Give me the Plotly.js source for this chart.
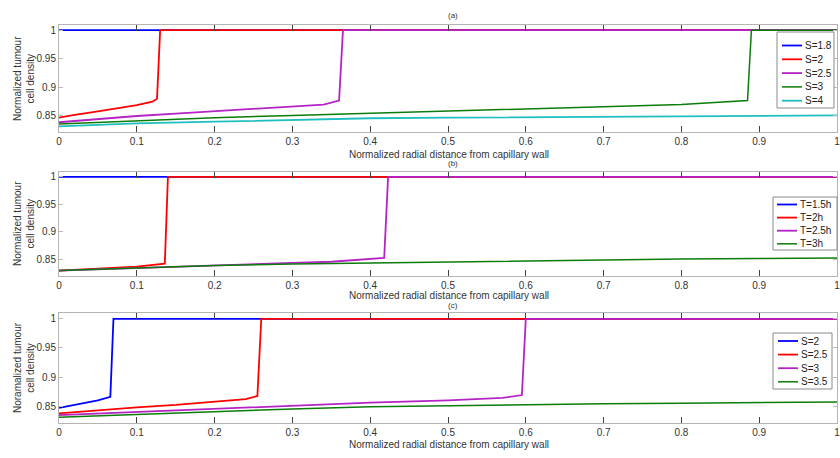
<!DOCTYPE html>
<html><head><meta charset="utf-8">
<script src="https://cdn.plot.ly/plotly-3.0.1.min.js"></script>
<style>html,body{margin:0;padding:0;background:#fff}#chart{width:840px;height:458px}</style>
</head><body><div id="chart"></div>
<script>
// ---------- Data ----------
const xTicks = [0,0.1,0.2,0.3,0.4,0.5,0.6,0.7,0.8,0.9,1];
const xTickText = ["0","0.1","0.2","0.3","0.4","0.5","0.6","0.7","0.8","0.9","1"];
const yTicks = [0.85,0.9,0.95,1];
const yTickText = ["0.85","0.9","0.95","1"];

// Panel (a)
const namesA = ["S=1.8","S=2","S=2.5","S=3","S=4"];
const aBlueX = [0,1];
const aBlueY = [1,1];
const aRedX = [0,0.02,0.05,0.08,0.1,0.12,0.126,0.13,1];
const aRedY = [0.847,0.852,0.858,0.865,0.869,0.875,0.880,1,1];
const aMagX = [0,0.05,0.1,0.15,0.2,0.25,0.3,0.34,0.36,0.365,1];
const aMagY = [0.839,0.845,0.850,0.854,0.858,0.862,0.866,0.870,0.877,1,1];
const aGreenX = [0,0.1,0.2,0.3,0.4,0.5,0.6,0.7,0.8,0.885,0.89,1];
const aGreenY = [0.836,0.842,0.847,0.851,0.855,0.859,0.862,0.866,0.870,0.877,1,1];
const aCyanX = [0,0.1,0.2,0.3,0.4,0.5,0.6,0.7,0.8,0.9,1];
const aCyanY = [0.832,0.837,0.840,0.843,0.846,0.847,0.848,0.849,0.850,0.851,0.851];

// Panel (b)
const namesB = ["T=1.5h","T=2h","T=2.5h","T=3h"];
const bBlueX = [0,1];
const bBlueY = [1,1];
const bRedX = [0,0.05,0.1,0.136,0.14,1];
const bRedY = [0.829,0.832,0.836,0.8415,1,1];
const bMagX = [0,0.1,0.2,0.3,0.35,0.4,0.418,0.423,1];
const bMagY = [0.829,0.834,0.838,0.843,0.845,0.8495,0.852,1,1];
const bGreenX = [0,0.1,0.2,0.3,0.4,0.5,0.6,0.7,0.8,0.9,1];
const bGreenY = [0.829,0.834,0.838,0.841,0.843,0.845,0.847,0.849,0.850,0.851,0.852];

// Panel (c)
const namesC = ["S=2","S=2.5","S=3","S=3.5"];
const cBlueX = [0,0.03,0.05,0.066,0.07,1];
const cBlueY = [0.847,0.855,0.860,0.866,1,1];
const cRedX = [0,0.05,0.1,0.15,0.2,0.24,0.255,0.26,1];
const cRedY = [0.8375,0.843,0.848,0.852,0.857,0.862,0.8675,1,1];
const cMagX = [0,0.1,0.2,0.3,0.4,0.5,0.57,0.595,0.6,1];
const cMagY = [0.8345,0.840,0.846,0.851,0.856,0.860,0.864,0.869,1,1];
const cGreenX = [0,0.1,0.2,0.3,0.4,0.5,0.6,0.7,0.8,0.9,1];
const cGreenY = [0.831,0.836,0.841,0.845,0.849,0.851,0.853,0.854,0.855,0.856,0.857];

// ---------- Styles ----------
const COLORS = {blue:"#0000ff", red:"#ff0000", mag:"#b424c4", green:"#0b7d0b", cyan:"#1fbfbf"};
const FONT = "Liberation Sans, Arial, sans-serif";

function tr(x,y,name,color,xa,ya,w){
  return {type:"scatter",mode:"lines",x:x,y:y,name:name,xaxis:xa,yaxis:ya,showlegend:false,
          line:{color:color,width:w||1.8},hoverinfo:"skip"};
}

const data = [
  tr(aBlueX,aBlueY,namesA[0],COLORS.blue,"x","y"),
  tr(aRedX,aRedY,namesA[1],COLORS.red,"x","y"),
  tr(aMagX,aMagY,namesA[2],COLORS.mag,"x","y"),
  tr(aGreenX,aGreenY,namesA[3],COLORS.green,"x","y",1.5),
  tr(aCyanX,aCyanY,namesA[4],COLORS.cyan,"x","y"),
  tr(bBlueX,bBlueY,namesB[0],COLORS.blue,"x2","y2"),
  tr(bRedX,bRedY,namesB[1],COLORS.red,"x2","y2"),
  tr(bMagX,bMagY,namesB[2],COLORS.mag,"x2","y2"),
  tr(bGreenX,bGreenY,namesB[3],COLORS.green,"x2","y2",1.5),
  tr(cBlueX,cBlueY,namesC[0],COLORS.blue,"x3","y3"),
  tr(cRedX,cRedY,namesC[1],COLORS.red,"x3","y3"),
  tr(cMagX,cMagY,namesC[2],COLORS.mag,"x3","y3"),
  tr(cGreenX,cGreenY,namesC[3],COLORS.green,"x3","y3",1.5)
];

const XD = [59/840, 837/840];
function xa(anchor){
  return {domain:XD, anchor:anchor, range:[0,1], tickvals:xTicks, ticktext:xTickText,
    ticks:"inside", ticklen:6, tickcolor:"#444", tickwidth:1, showline:true, linecolor:"#b4b4b4",
    linewidth:1, mirror:"ticks", showgrid:false, zeroline:false, fixedrange:true,
    ticklabeloverflow:"allow",
    tickfont:{family:FONT,size:10,color:"#333"}};
}
function ya(anchor,dom,rng){
  return {domain:dom, anchor:anchor, range:rng, tickvals:yTicks, ticktext:yTickText,
    ticks:"inside", ticklen:4, tickcolor:"#bbb", tickwidth:1, showline:true, linecolor:"#b4b4b4",
    linewidth:1, mirror:"ticks", showgrid:false, zeroline:false, fixedrange:true,
    ticklabeloverflow:"allow",
    tickfont:{family:FONT,size:10,color:"#333"}};
}
function py(p){ return 1 - p/458; }

// ---------- Legends (built from the series names / colours) ----------
const shapes = [];
const ann = [];
function legendBox(names, cols, bx0, bx1, by0, by1, firstY, step, lx0, lx1){
  shapes.push({type:"rect", xref:"paper", yref:"paper", x0:bx0/840, x1:bx1/840, y0:py(by1), y1:py(by0),
    line:{color:"#8a8a8a", width:1}, fillcolor:"#ffffff", layer:"above"});
  names.forEach((n,i)=>{
    const yy = firstY + i*step;
    shapes.push({type:"line", xref:"paper", yref:"paper", x0:lx0/840, x1:lx1/840, y0:py(yy), y1:py(yy),
      line:{color:cols[i], width:i===3?1.5:1.8}, layer:"above"});
    ann.push({text:n, xref:"paper", yref:"paper", x:(lx1+1)/840, y:py(yy), showarrow:false,
      xanchor:"left", yanchor:"middle", font:{family:FONT,size:10,color:"#222"}});
  });
}
legendBox(namesA,[COLORS.blue,COLORS.red,COLORS.mag,COLORS.green,COLORS.cyan],777,834,32,108,45.5,13.8,782,802);
legendBox(namesB,[COLORS.blue,COLORS.red,COLORS.mag,COLORS.green],773,837,197,250,204.5,13.1,777,797);
legendBox(namesC,[COLORS.blue,COLORS.red,COLORS.mag,COLORS.green],773,832,333,389,341,13.6,778,798);

function A(text,x,y,size,angle){
  ann.push({text:text, xref:"paper", yref:"paper", x:x/840, y:py(y), showarrow:false,
    xanchor:"center", yanchor:"middle", textangle:angle||0,
    font:{family:FONT,size:size,color:"#333"}});
}
const xTitle = "Normalized radial distance from capillary wall";
A("(a)",453,15,8); A("(b)",453,164,8); A("(c)",453,305,8);
A(xTitle,449,154,10); A(xTitle,449,295,10); A(xTitle,449,444,10);
A("Normalized tumour<br>cell density",24,79,10,-90);
A("Normalized tumour<br>cell density",24,224,10,-90);
A("Noramalized tumour<br>cell density",24,368,10,-90);

const layout = {
  width:840, height:458, margin:{l:0,r:0,t:0,b:0},
  paper_bgcolor:"#fff", plot_bgcolor:"#fff", showlegend:false,
  xaxis:xa("y"), yaxis:ya("x",[py(132),py(25)],[0.822,1.009]),
  xaxis2:xa("y2"), yaxis2:ya("x2",[py(276),py(172)],[0.819,1.009]),
  xaxis3:xa("y3"), yaxis3:ya("x3",[py(423),py(313)],[0.821,1.010]),
  shapes:shapes, annotations:ann
};

Plotly.newPlot("chart", data, layout, {displayModeBar:false, staticPlot:true});
</script></body></html>
